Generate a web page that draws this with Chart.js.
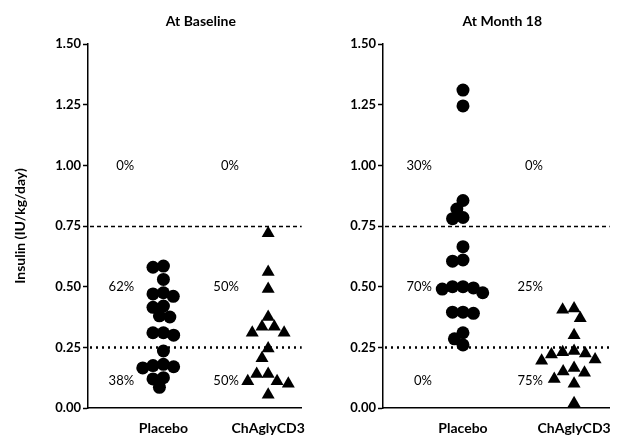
<!DOCTYPE html>
<html>
<head>
<meta charset="utf-8">
<script src="https://cdn.jsdelivr.net/npm/chart.js@4.4.1/dist/chart.umd.min.js"></script>
<style>
  html, body { margin: 0; padding: 0; background: #fff; }
  #wrap { position: relative; width: 625px; height: 436px; overflow: hidden; }
  canvas { position: absolute; top: 0; }
</style>
</head>
<body>
<div id="wrap">
  <canvas id="c1" width="318" height="436" style="left:0"></canvas>
  <canvas id="c2" width="307" height="436" style="left:318px"></canvas>
</div>
<script>
// ---- data ----
const groups = ['Placebo', 'ChAglyCD3'];
const panelTitles = ['At Baseline', 'At Month 18'];
const yTickValues = [0, 0.25, 0.5, 0.75, 1.0, 1.25, 1.5];
const thresholds = [0.25, 0.75];          // dotted lower line, dashed upper line

const baselinePlacebo = [0.585, 0.58, 0.53, 0.475, 0.47, 0.46, 0.42, 0.415, 0.38, 0.375,
                         0.31, 0.31, 0.30, 0.235, 0.18, 0.175, 0.17, 0.165, 0.125, 0.12, 0.085];
const baselineChAgly  = [0.72, 0.56, 0.49, 0.375, 0.335, 0.335, 0.31, 0.31,
                         0.245, 0.205, 0.14, 0.14, 0.11, 0.11, 0.10, 0.055];
const month18Placebo  = [1.31, 1.245, 0.855, 0.82, 0.785, 0.78, 0.665, 0.61, 0.605, 0.50,
                         0.50, 0.495, 0.49, 0.475, 0.395, 0.395, 0.39, 0.31, 0.285, 0.26];
const month18ChAgly   = [0.41, 0.405, 0.37, 0.30, 0.235, 0.23, 0.225, 0.22,
                         0.20, 0.195, 0.165, 0.15, 0.145, 0.12, 0.10, 0.02];

// share of patients above 0.75, between the lines, and below 0.25 (Placebo, ChAglyCD3)
const baselineShares = [['0%', '0%'], ['62%', '50%'], ['38%', '50%']];
const month18Shares  = [['30%', '0%'], ['70%', '25%'], ['0%', '75%']];
const shareLevels = [1.0, 0.5, 0.11];

const FONT = 'Lato';

// ---- beeswarm: spread equal-ish values sideways so markers don't overlap ----
function dodge(pixYs, d) {
  const order = pixYs.map((_, i) => i).sort((a, b) => pixYs[a] - pixYs[b]);
  const placed = [];
  const out = new Array(pixYs.length).fill(0);
  for (const i of order) {
    const y = pixYs[i];
    const cands = [0];
    for (const p of placed) {
      const dy = Math.abs(p.y - y);
      if (dy < d) {
        const dx = Math.sqrt(d * d - dy * dy);
        cands.push(p.x + dx, p.x - dx);
      }
    }
    cands.sort((a, b) => Math.abs(a) - Math.abs(b) || a - b);
    let x = 0;
    for (const c of cands) {
      if (placed.every(p => (p.x - c) ** 2 + (p.y - y) ** 2 >= d * d - 1e-6)) { x = c; break; }
    }
    placed.push({ x, y });
    out[i] = x;
  }
  return out;
}

function applySwarm(chart, spacing) {
  const xs = chart.scales.x, ys = chart.scales.y;
  const unit = xs.getPixelForValue(1) - xs.getPixelForValue(0);
  chart.data.datasets.forEach((ds, g) => {
    const values = ds.data.map(p => p.y);
    const offs = dodge(values.map(v => ys.getPixelForValue(v)), spacing[g]);
    ds.data = values.map((v, i) => ({ x: g + offs[i] / unit, y: v }));
  });
  chart.update('none');
}

// ---- reference lines at 0.25 and 0.75 ----
const refLines = {
  id: 'refLines',
  beforeDatasetsDraw(chart) {
    const { ctx, chartArea: a, scales: { y } } = chart;
    ctx.save();
    ctx.strokeStyle = '#000';
    thresholds.forEach((t, k) => {
      const py = Math.round(y.getPixelForValue(t)) + 0.5;
      ctx.lineWidth = k === 0 ? 2.5 : 1.3;
      ctx.setLineDash(k === 0 ? [2, 4] : [4, 3]);
      ctx.beginPath();
      ctx.moveTo(a.left + 2, py);
      ctx.lineTo(a.right, py);
      ctx.stroke();
    });
    ctx.restore();
  }
};

// ---- panel title and percentage labels ----
const textLayer = {
  id: 'textLayer',
  afterDraw(chart, args, opts) {
    const { ctx, chartArea: a, scales: { x, y } } = chart;
    ctx.save();
    ctx.fillStyle = '#000';
    ctx.font = `bold 14px ${FONT}`;
    ctx.textAlign = 'center';
    ctx.textBaseline = 'middle';
    ctx.fillText(opts.title, (a.left + a.right) / 2 + 6, 21);
    ctx.font = `13px ${FONT}`;
    ctx.textAlign = 'right';
    opts.shares.forEach((row, r) => {
      row.forEach((txt, g) => {
        ctx.fillText(txt, x.getPixelForValue(g - 0.28), y.getPixelForValue(shareLevels[r]));
      });
    });
    ctx.restore();
  }
};

function makePanel(canvasId, title, placebo, chagly, shares, yWidth, padRight, showYTitle) {
  const chart = new Chart(document.getElementById(canvasId), {
    type: 'scatter',
    data: {
      datasets: [
        { label: groups[0], data: placebo.map(v => ({ x: 0, y: v })), pointStyle: 'circle',
          pointRadius: 6.5, backgroundColor: '#000', borderColor: '#000', borderWidth: 0 },
        { label: groups[1], data: chagly.map(v => ({ x: 1, y: v })), pointStyle: 'triangle',
          pointRadius: 7.5, backgroundColor: '#000', borderColor: '#000', borderWidth: 0 }
      ]
    },
    options: {
      responsive: false,
      animation: false,
      events: [],
      layout: { padding: { top: 44, right: padRight, left: 0, bottom: 0 } },
      plugins: {
        legend: { display: false },
        tooltip: { enabled: false },
        textLayer: { title, shares }
      },
      scales: {
        x: {
          type: 'linear', min: -0.72, max: 1.32,
          afterBuildTicks: s => { s.ticks = groups.map((_, i) => ({ value: i })); },
          afterFit: s => { s.height = 28; },
          ticks: { callback: v => groups[v], color: '#000', padding: 12, maxRotation: 0,
                   autoSkip: false, font: { family: FONT, size: 14, weight: 'bold' } },
          grid: { drawOnChartArea: false, drawTicks: false },
          border: { color: '#000', width: 1.5 }
        },
        y: {
          min: 0, max: 1.5,
          afterBuildTicks: s => { s.ticks = yTickValues.map(v => ({ value: v })); },
          afterFit: s => { s.width = yWidth; },
          ticks: { callback: v => v.toFixed(2), color: '#000', padding: 2,
                   font: { family: FONT, size: 13, weight: 'bold' } },
          grid: { drawOnChartArea: false, drawTicks: true, tickLength: 5, color: '#000', tickWidth: 1.5 },
          border: { color: '#000', width: 1.5 },
          title: { display: showYTitle, text: 'Insulin (IU/kg/day)', color: '#000',
                   padding: { top: 12, bottom: 0 }, font: { family: FONT, size: 14, weight: 'bold' } }
        }
      }
    },
    plugins: [refLines, textLayer]
  });
  applySwarm(chart, [10.5, 11.5]);
  return chart;
}

makePanel('c1', panelTitles[0], baselinePlacebo, baselineChAgly, baselineShares, 88, 8, true);
makePanel('c2', panelTitles[1], month18Placebo, month18ChAgly, month18Shares, 65, 15, false);
</script>
</body>
</html>
